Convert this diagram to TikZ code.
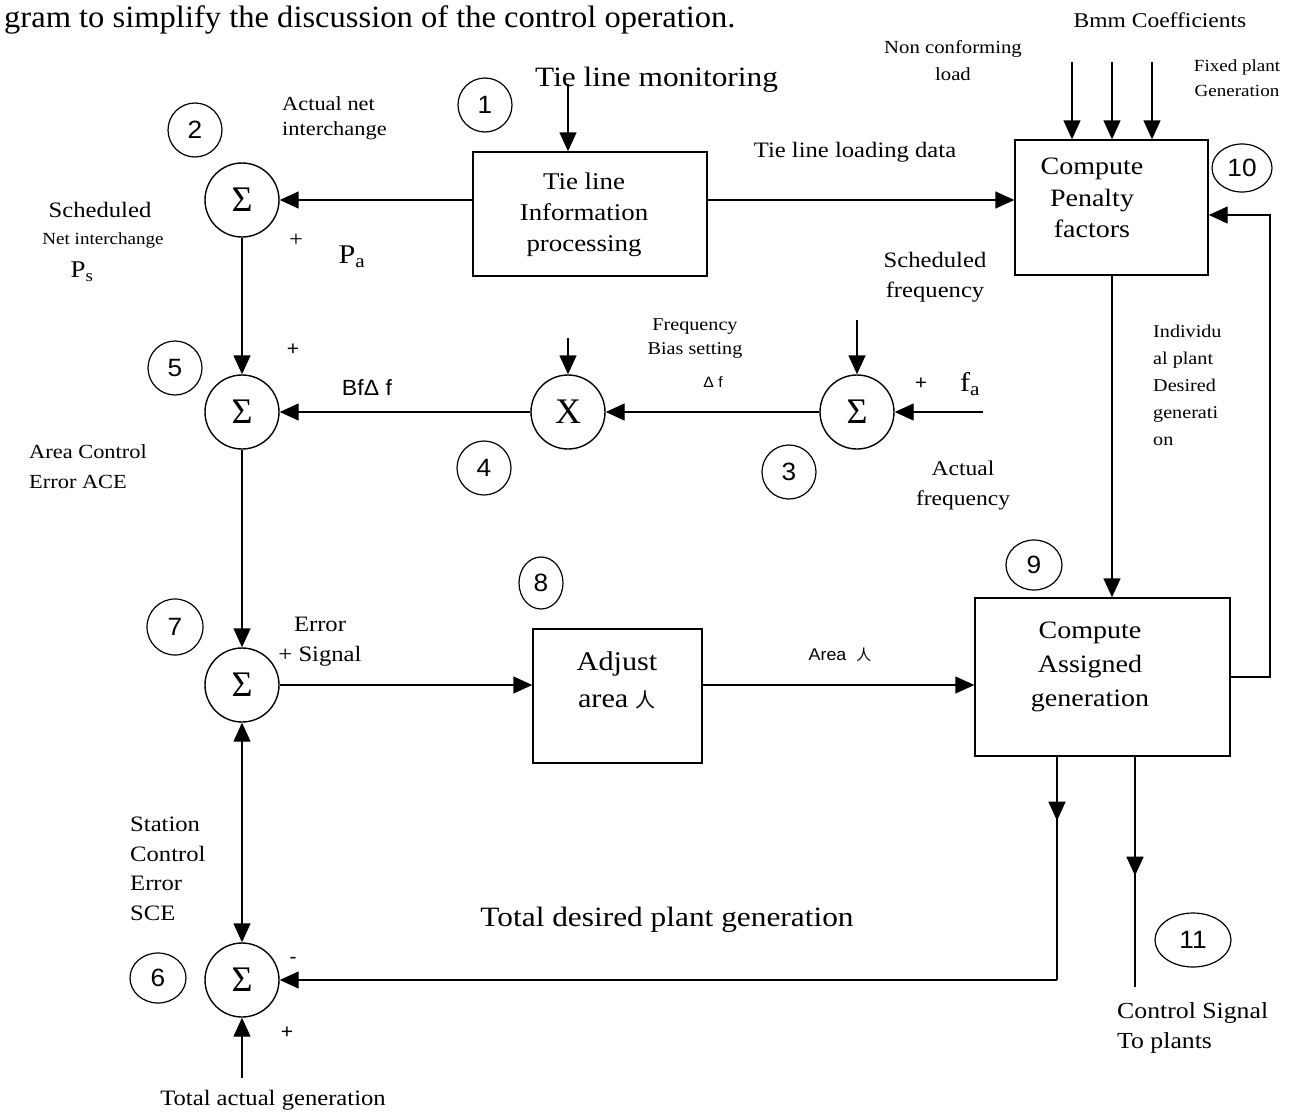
\documentclass[tikz,border=0pt]{standalone}
\usepackage{fontspec}
\setmainfont[FakeStretch=1.12]{Liberation Serif}
\newfontfamily\arialfam[FakeStretch=1.05]{Liberation Sans}
\newfontfamily\plainserif{Liberation Serif}
\newfontfamily\topfam[FakeStretch=1.05]{Liberation Serif}
\newfontfamily\cjkfam{Noto Sans CJK SC}
\usetikzlibrary{arrows.meta,shapes.geometric,decorations.markings}
\newcommand\setfs[2]{\fontsize{#1}{#2}\selectfont}

\begin{document}
\begin{tikzpicture}[x=1pt,y=-1pt,
  wire/.style={line width=1.4pt},
  tip/.style={wire,-{Triangle[length=19pt,width=17pt]}},
  twotips/.style={wire,{Triangle[length=19pt,width=17pt]}-{Triangle[length=19pt,width=17pt]}},
  midtip/.style={wire,postaction={decorate},decoration={markings,
      mark=at position #1 with {\arrow{Triangle[length=19pt,width=17pt]}}}},
  sumnode/.style={circle,draw,line width=1.4pt,minimum size=74pt,inner sep=0pt,
      font=\plainserif\setfs{36}{40}},
  tag/.style={circle,draw,line width=1.2pt,minimum size=54pt,inner sep=0pt,
      font=\arialfam\setfs{25}{28}},
  ovaltag/.style={ellipse,draw,line width=1.2pt,inner sep=0pt,
      font=\arialfam\setfs{25}{28}},
  blockbox/.style={draw,line width=1.4pt,inner sep=0pt},
  lbl/.style={inner sep=0pt,align=center},
  lbll/.style={inner sep=0pt,align=left},
]
\useasboundingbox (0,0) rectangle (1300,1116);
\fill[white] (0,0) rectangle (1300,1116);

% running text above the diagram
\node[anchor=base west,inner sep=0pt,font=\topfam\setfs{31}{34}] (caption) at (4,28)
  {gram to simplify the discussion of the control operation.};

% blocks
\node[blockbox,minimum width=234pt,minimum height=124pt] (tie) at (590,214) {};
\node[lbl,font=\setfs{24}{31}] (tietxt) at (584,215) {Tie line\\Information\\processing};
\node[blockbox,minimum width=193pt,minimum height=135pt] (pen) at (1111.5,207.5) {};
\node[lbl,font=\setfs{25}{31.5}] (pentxt) at (1092,198) {Compute\\Penalty\\factors};
\node[blockbox,minimum width=169pt,minimum height=134pt] (adj) at (617.5,696) {};
\node[lbl,font=\setfs{27}{37}] (adjtxt) at (617,680) {Adjust\\area {\cjkfam\setfs{20}{37}人}};
\node[blockbox,minimum width=255pt,minimum height=158pt] (asg) at (1102.5,677) {};
\node[lbl,font=\setfs{25}{34}] (asgtxt) at (1090,667) {Compute\\Assigned\\generation};

% summing and multiplying junctions
\node[sumnode] (s2) at (242,200) {Σ};
\node[sumnode] (s5) at (242,412) {Σ};
\node[sumnode] (mx) at (568,412) {X};
\node[sumnode] (s3) at (857,412) {Σ};
\node[sumnode] (s7) at (242,685) {Σ};
\node[sumnode] (s6) at (242,980) {Σ};

% step numbers
\node[tag] (n1) at (485,105) {1};
\node[tag] (n2) at (195,130) {2};
\node[ovaltag,minimum width=60pt,minimum height=48pt] (n10) at (1242,168) {10};
\node[tag] (n5) at (175,368) {5};
\node[tag] (n4) at (484,468) {4};
\node[tag] (n3) at (789,472) {3};
\node[ovaltag,minimum width=44pt,minimum height=52pt] (n8) at (541,583) {8};
\node[ovaltag,minimum width=56pt,minimum height=50pt] (n9) at (1034,565) {9};
\node[tag,minimum size=56pt] (n7) at (175,627) {7};
\node[ovaltag,minimum width=56pt,minimum height=50pt] (n6) at (158,978) {6};
\node[ovaltag,minimum width=76pt,minimum height=54pt] (n11) at (1193,940) {11};

% free ends of the signal lines
\coordinate (tlm) at (568,84);
\coordinate (bm1) at (1072,62);
\coordinate (bm2) at (1112,62);
\coordinate (bm3) at (1152,62);
\coordinate (bias) at (568,338);
\coordinate (sfq) at (857,320);
\coordinate (fain) at (983,412);
\coordinate (tag0) at (242,1078);
\coordinate (rloop) at (1270,215);
\coordinate (tdp) at (1057,980);
\coordinate (csp) at (1135,987);

% connectors
\draw[tip] (tlm) -- (tlm |- tie.north);
\draw[tip] (tie.west |- s2) -- (s2.east);
\draw[tip] (tie.east |- s2) -- (pen.west |- s2);
\draw[tip] (bm1) -- (bm1 |- pen.north);
\draw[tip] (bm2) -- (bm2 |- pen.north);
\draw[tip] (bm3) -- (bm3 |- pen.north);
\draw[tip] (pen.south -| bm2) -- (asg.north -| bm2);
\draw[tip] (asg.east) -| (rloop) -- (pen.east |- rloop);
\draw[tip] (s2.south) -- (s5.north);
\draw[tip] (bias) -- (mx.north);
\draw[tip] (sfq) -- (s3.north);
\draw[tip] (fain) -- (s3.east);
\draw[tip] (s3.west) -- (mx.east);
\draw[tip] (mx.west) -- (s5.east);
\draw[tip] (s5.south) -- (s7.north);
\draw[tip] (s7.east) -- (adj.west |- s7);
\draw[tip] (adj.east |- s7) -- (asg.west |- s7);
\draw[twotips] (s7.south) -- (s6.north);
\draw[tip] (tag0) -- (s6.south);
\draw[midtip=64pt] (asg.south -| tdp) -- (tdp);
\draw[tip] (tdp) -- (s6.east);
\draw[midtip=119pt] (asg.south -| csp) -- (csp);

% signal labels
\node[anchor=base west,inner sep=0pt,font=\setfs{28}{30}] (ltlm) at (535,86) {Tie line monitoring};
\node[lbll,anchor=west,font=\setfs{20}{25}] (lani) at (282,118) {Actual net\\interchange};
\node[lbl,font=\setfs{22}{26}] (lsch) at (100,210) {Scheduled};
\node[lbl,font=\setfs{17}{20}] (lnet) at (103,240) {Net interchange};
\node[lbl,font=\setfs{24}{28}] (lps) at (82,272) {P\textsubscript{s}};
\node[lbl,font=\setfs{22}{26}] (lp1) at (296,240) {+};
\node[lbl,font=\setfs{27}{30}] (lpa) at (352,257) {P\textsubscript{a}};
\node[lbl,font=\setfs{22}{25}] (ltld) at (855,152) {Tie line loading data};
\node[lbl,font=\arialfam\setfs{20}{24}] (lp2) at (293,350) {+};
\node[lbl,font=\arialfam\setfs{22}{25}] (lbf) at (367,388) {BfΔ f};
\node[lbl,font=\setfs{18}{24}] (lbias) at (695,339) {Frequency\\Bias setting};
\node[lbl,font=\arialfam\setfs{15}{18}] (ldf) at (713,382) {Δ f};
\node[lbl,font=\setfs{22}{30}] (lsf) at (935,277) {Scheduled\\frequency};
\node[lbl,font=\arialfam\setfs{20}{24}] (lp3) at (921,384) {+};
\node[lbl,font=\setfs{27}{30}] (lfa) at (970,384) {f\textsubscript{a}};
\node[lbl,font=\setfs{21}{30}] (laf) at (963,485) {Actual\\frequency};
\node[lbll,anchor=west,font=\setfs{20}{30}] (lace) at (29,467) {Area Control\\Error ACE};
\node[lbll,anchor=west,font=\setfs{18}{27}] (lipd) at (1153,385) {Individu\\al plant\\Desired\\generati\\on};
\node[lbl,font=\setfs{22}{30}] (lerr) at (320,642) {Error\\+ Signal};
\node[lbl,font=\arialfam\setfs{17}{20}] (larea) at (840,655) {Area \ {\cjkfam\setfs{15}{20}人}};
\node[lbll,anchor=west,font=\setfs{22}{29.5}] (lsce) at (130,869) {Station\\Control\\Error\\SCE};
\node[lbl,font=\arialfam\setfs{20}{24}] (lm6) at (293,960) {-};
\node[lbl,font=\arialfam\setfs{20}{24}] (lp6) at (287,1033) {+};
\node[lbl,font=\setfs{28}{30}] (ltdp) at (667,920) {Total desired plant generation};
\node[lbll,anchor=west,font=\setfs{23}{30}] (lcs) at (1117,1028) {Control Signal\\To plants};
\node[lbl,font=\setfs{22}{26}] (ltag) at (273,1100) {Total actual generation};
\node[lbl,font=\setfs{21}{24}] (lbmm) at (1160,20) {Bmm Coefficients};
\node[lbl,font=\setfs{18.5}{27}] (lncl) at (953,61) {Non conforming\\load};
\node[lbl,font=\setfs{17}{25}] (lfpg) at (1237,78) {Fixed plant\\Generation};
\end{tikzpicture}
\end{document}
